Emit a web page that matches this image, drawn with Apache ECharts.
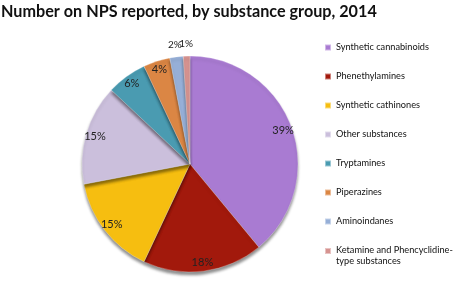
<!DOCTYPE html>
<html>
<head>
<meta charset="utf-8">
<script src="https://cdn.jsdelivr.net/npm/echarts@6/dist/echarts.min.js"></script>
<style>
html,body{margin:0;padding:0;background:#fff;}
#main{width:453px;height:281px;}
</style>
</head>
<body>
<div id="main"></div>
<script>
// substance groups, share of NPS reported (%)
var groups = ['Synthetic cannabinoids','Phenethylamines','Synthetic cathinones','Other substances','Tryptamines','Piperazines','Aminoindanes','Ketamine and Phencyclidine-type substances'];
var shares = [39, 18, 15, 15, 6, 4, 2, 1];
var colors = ['#a97bd2','#a2190c','#f6be10','#cbbfdc','#4a9bb1','#db8644','#96afd7','#d69390'];
var outerLabels = ['Aminoindanes','Ketamine and Phencyclidine-type substances']; // labels drawn above the pie

var fnt = 'Lato';
var cx = 190, cy = 164, r = 108;

function buildData(hide){
	var out = [];
	for (var i = 0; i < groups.length; i++) {
		var d = {name: groups[i], value: shares[i]};
		if (hide) d.itemStyle = {color: 'transparent', borderWidth: 0, shadowBlur: 0};
		else d.itemStyle = {color: colors[i]};
		out.push(d);
	}
	return out;
}

var labelsIn = buildData(true), labelsOut = buildData(true);
for (var i = 0; i < groups.length; i++) {
	var isOut = outerLabels.indexOf(groups[i]) != -1;
	labelsIn[i].label = {show: !isOut};
	labelsOut[i].label = {show: isOut};
}

var hiddenBase = {
	type: 'pie',
	center: [cx, cy],
	silent: true,
	legendHoverLink: false,
	emphasis: {disabled: true},
	labelLine: {show: false},
	labelLayout: {hideOverlap: false},
	label: {position: 'inside', formatter: '{c}%', color: '#222', fontFamily: fnt, fontSize: 11}
};

var myChart = echarts.init(document.getElementById('main'));
myChart.setOption({
	animation: false,
	title: {
		text: 'Number on NPS reported, by substance group, 2014',
		left: -4, top: -1,
		textStyle: {fontFamily: fnt, fontSize: 16.2, fontWeight: 'bold', color: '#111'}
	},
	legend: {
		orient: 'vertical',
		left: 319, top: 36,
		height: 260,
		itemWidth: 6, itemHeight: 6,
		itemGap: 16,
		icon: 'rect',
		data: groups,
		formatter: function(name){
			var k = name.indexOf('Phencyclidine-');
			if (k == -1) return name;
			// 2nd line hangs below so the icon stays beside the 1st line
			k += 'Phencyclidine-'.length;
			return '{a|' + name.substr(0, k) + '}\n{b|' + name.substr(k) + '}';
		},
		textStyle: {
			fontFamily: fnt, fontSize: 9.2, color: '#111', lineHeight: 13,
			rich: {
				a: {fontFamily: fnt, fontSize: 9.2, color: '#111', lineHeight: 13},
				b: {fontFamily: fnt, fontSize: 9.2, color: '#111', lineHeight: 1, verticalAlign: 'top'}
			}
		}
	},
	series: [
		{
			type: 'pie',
			name: 'main',
			center: [cx, cy],
			radius: [0, r],
			startAngle: 90,
			clockwise: true,
			label: {show: false},
			labelLine: {show: false},
			itemStyle: {
				borderColor: 'rgba(255,255,255,0.45)', borderWidth: 0.6,
				shadowBlur: 3, shadowOffsetY: 3, shadowColor: 'rgba(0,0,0,0.45)'
			},
			data: buildData(false)
		},
		Object.assign({}, hiddenBase, {name: 'lblIn', radius: [0, 2*96], data: labelsIn}),
		Object.assign({}, hiddenBase, {name: 'lblOut', radius: [0, 2*117], data: labelsOut,
			label: Object.assign({}, hiddenBase.label, {fontSize: 10})})
	]
});
</script>
</body>
</html>
